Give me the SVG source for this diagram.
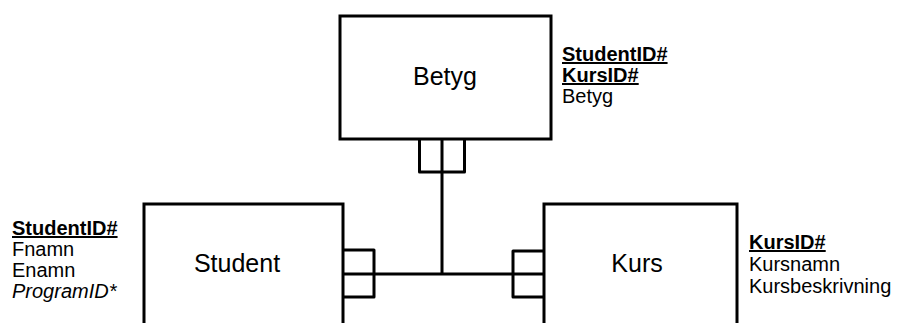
<svg xmlns="http://www.w3.org/2000/svg" width="898" height="323" viewBox="0 0 898 323">
<style>
.box{fill:#fff;stroke:#000;stroke-width:3}
.ln{fill:none;stroke:#000;stroke-width:3;stroke-linejoin:round}
.lbl{font-family:"Liberation Sans",Arial,sans-serif;font-size:25px;text-anchor:middle;fill:#000}
.att{font-family:"Liberation Sans",Arial,sans-serif;font-size:20px;fill:#000}
.key{font-weight:bold;text-decoration:underline}
.fk{font-style:italic}
</style>
<rect width="898" height="323" fill="#fff"/>
<g id="connectors">
<path class="ln" d="M442 140 V274 M344 274 H543"/>
<path class="ln" d="M419.5 140 V172 H464.5 V140"/>
<path class="ln" d="M344 250 H374 V297 H344"/>
<path class="ln" d="M543 251 H513 V297 H543"/>
</g>
<g id="betyg">
<rect class="box" x="340" y="16" width="211" height="123"/>
<text class="lbl" x="445" y="85">Betyg</text>
<text class="att" x="562" y="61"><tspan class="key">StudentID#</tspan><tspan class="key" x="562" y="82">KursID#</tspan><tspan x="562" y="103">Betyg</tspan></text>
</g>
<g id="student">
<rect class="box" x="144" y="204" width="199" height="130"/>
<text class="lbl" x="237" y="272">Student</text>
<text class="att" x="12" y="235"><tspan class="key">StudentID#</tspan><tspan x="12" y="256">Fnamn</tspan><tspan x="12" y="277">Enamn</tspan><tspan class="fk" x="12" y="298">ProgramID*</tspan></text>
</g>
<g id="kurs">
<rect class="box" x="544" y="204" width="193" height="130"/>
<text class="lbl" x="637" y="272">Kurs</text>
<text class="att" x="749" y="249"><tspan class="key">KursID#</tspan><tspan x="749" y="271">Kursnamn</tspan><tspan x="749" y="293">Kursbeskrivning</tspan></text>
</g>
</svg>
